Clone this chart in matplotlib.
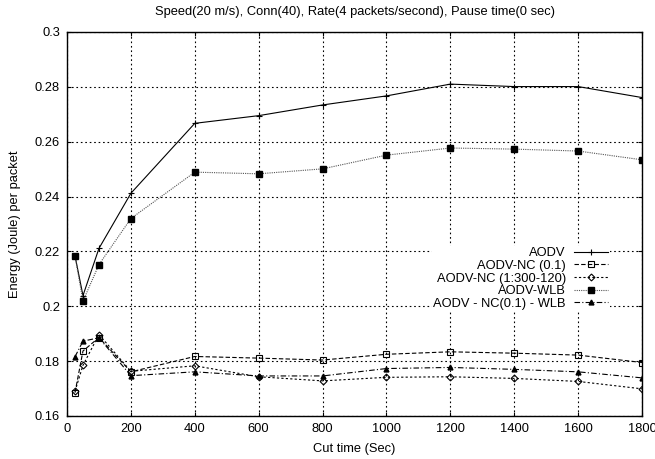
import matplotlib
matplotlib.use("Agg")
import matplotlib.pyplot as plt
from matplotlib.ticker import FuncFormatter

plt.rcParams["font.family"] = ["Liberation Sans", "DejaVu Sans"]

# cut time (sec)
cut_time = [25, 50, 100, 200, 400, 600, 800, 1000, 1200, 1400, 1600, 1800]

# energy (joule) per packet
aodv = [0.2184, 0.2039, 0.2211, 0.2412, 0.2667, 0.2695, 0.2734, 0.2767, 0.2810, 0.2801, 0.2801, 0.2761]
aodv_nc = [0.1685, 0.1837, 0.1886, 0.1761, 0.1817, 0.1811, 0.1804, 0.1825, 0.1834, 0.1829, 0.1822, 0.1795]
aodv_nc_var = [0.1690, 0.1785, 0.1897, 0.1763, 0.1783, 0.1743, 0.1728, 0.1741, 0.1743, 0.1737, 0.1726, 0.1699]
aodv_wlb = [0.2184, 0.2019, 0.2152, 0.2320, 0.2489, 0.2483, 0.2501, 0.2551, 0.2577, 0.2573, 0.2566, 0.2534]
aodv_nc_wlb = [0.1816, 0.1873, 0.1885, 0.1747, 0.1761, 0.1746, 0.1746, 0.1773, 0.1777, 0.1770, 0.1761, 0.1739]

labels = ["AODV", "AODV-NC (0.1)", "AODV-NC (1:300-120)", "AODV-WLB", "AODV - NC(0.1) - WLB"]

fig = plt.figure(figsize=(6.55, 4.59), dpi=100)
ax = fig.add_axes([0.1023, 0.0937, 0.8779, 0.8366])

fs = 9.3
lw = 0.8
ax.plot(cut_time, aodv, color="black", lw=lw, ls="-", marker="+", ms=5, mew=0.8, label=labels[0])
ax.plot(cut_time, aodv_nc, color="black", lw=lw, ls=(0, (4, 2)), marker="s", ms=5,
        mfc="none", mew=0.8, label=labels[1])
ax.plot(cut_time, aodv_nc_var, color="black", lw=lw, ls=(0, (2, 2)), marker="D", ms=3.5,
        mfc="none", mew=0.8, label=labels[2])
ax.plot(cut_time, aodv_wlb, color="#555555", lw=lw, ls=(0, (1, 1)), marker="s", ms=5,
        mfc="black", mec="black", label=labels[3])
ax.plot(cut_time, aodv_nc_wlb, color="black", lw=lw, ls=(0, (5, 2, 1, 2)), marker="^", ms=3.5,
        mfc="black", mec="black", label=labels[4])

ax.set_xlim(0, 1800)
ax.set_ylim(0.16, 0.3)
ax.set_xticks(range(0, 1801, 200))
ax.set_yticks([0.16, 0.18, 0.2, 0.22, 0.24, 0.26, 0.28, 0.3])
ax.yaxis.set_major_formatter(FuncFormatter(lambda v, p: f"{v:g}"))
ax.tick_params(direction="in", top=True, right=True, labelsize=fs, length=3, width=0.8, pad=5)
ax.grid(True, color="black", ls=(0, (1.5, 2.5)), lw=0.8)
for s in ax.spines.values():
    s.set_linewidth(1.0)

ax.set_xlabel("Cut time (Sec)", fontsize=fs, labelpad=6)
ax.set_ylabel("Energy (Joule) per packet", fontsize=fs, labelpad=10)
ax.set_title("Speed(20 m/s), Conn(40), Rate(4 packets/second), Pause time(0 sec)", fontsize=fs, pad=12)

leg = ax.legend(loc="upper right", bbox_to_anchor=(0.955, 0.46), markerfirst=False, fontsize=fs,
                frameon=True, framealpha=1, edgecolor="none", fancybox=False,
                handlelength=2.7, labelspacing=0.05, borderpad=0.1, handletextpad=0.6)

fig.savefig("out.png", dpi=100)
